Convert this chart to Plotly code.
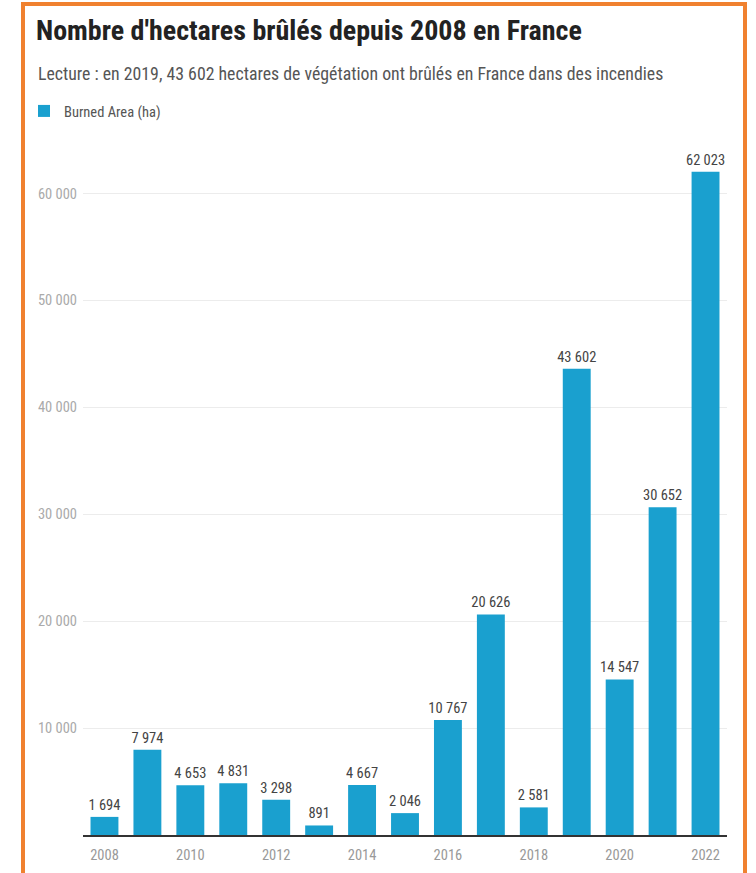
import plotly.graph_objects as go

years = list(range(2008, 2023))
burned_ha = [1694, 7974, 4653, 4831, 3298, 891, 4667, 2046, 10767, 20626, 2581, 43602, 14547, 30652, 62023]
y_ticks = [10000, 20000, 30000, 40000, 50000, 60000]
x_ticks = [2008, 2010, 2012, 2014, 2016, 2018, 2020, 2022]

W, H = 756, 873
L, R, T, B = 83, 29, 140, 38
pw, ph = W - L - R, H - T - B

def px_x(x):
    return (x - L) / pw

def px_y(y):
    return (H - B - y) / ph

FONT = "Roboto Condensed, Liberation Sans Narrow, Roboto, sans-serif"
BAR = "#1aa0cf"
ORANGE = "#f0812f"

fig = go.Figure(go.Bar(
    x=years, y=burned_ha, name="Burned Area (ha)",
    marker=dict(color=BAR, line=dict(width=0)),
    texttemplate="%{y:,d}", textposition="outside", constraintext="none",
    textfont=dict(family=FONT, size=14.5, color="#444"),
    cliponaxis=False,
))

fig.update_layout(
    width=W, height=H,
    margin=dict(l=L, r=R, t=T, b=B, autoexpand=False),
    paper_bgcolor="white", plot_bgcolor="white",
    separators=", ",
    bargap=0.35,
    font=dict(family=FONT, color="#999"),
    title=dict(text="<b>Nombre d'hectares brûlés depuis 2008 en France</b>",
               xref="container", yref="container", x=36 / W, y=1 - 30 / H,
               xanchor="left", yanchor="middle",
               font=dict(family=FONT, size=28, color="#222")),
    showlegend=True,
    legend=dict(xref="container", yref="container", x=24 / W, y=1 - 95 / H,
                xanchor="left", yanchor="top", orientation="h",
                font=dict(family=FONT, size=14.5, color="#555"),
                bgcolor="rgba(0,0,0,0)"),
    xaxis=dict(tickvals=x_ticks, ticktext=[str(v) for v in x_ticks],
               showgrid=False, showline=True, linecolor="#333", linewidth=2,
               ticks="", ticklabelstandoff=6, automargin=False,
               tickfont=dict(family=FONT, size=14.5, color="#999"),
               range=[2007.5, 2022.5], zeroline=False),
    yaxis=dict(tickvals=y_ticks, tickformat=",d", range=[0, 65000],
               showgrid=True, gridcolor="#ececec", gridwidth=1,
               zeroline=False, ticks="", ticklabelstandoff=5, automargin=False,
               tickfont=dict(family=FONT, size=14.5, color="#aaa")),
)

fig.add_annotation(
    text="Lecture : en 2019, 43 602 hectares de végétation ont brûlés en France dans des incendies",
    xref="paper", yref="paper", x=px_x(36), y=px_y(73),
    xanchor="left", yanchor="middle", showarrow=False,
    font=dict(family=FONT, size=17.8, color="#555"),
)

# orange frame
fig.add_shape(type="rect", xref="paper", yref="paper",
              x0=px_x(23), x1=px_x(745), y0=px_y(H + 10), y1=px_y(4),
              line=dict(color=ORANGE, width=4), fillcolor="rgba(0,0,0,0)", layer="above")

fig.write_html("out.html")
